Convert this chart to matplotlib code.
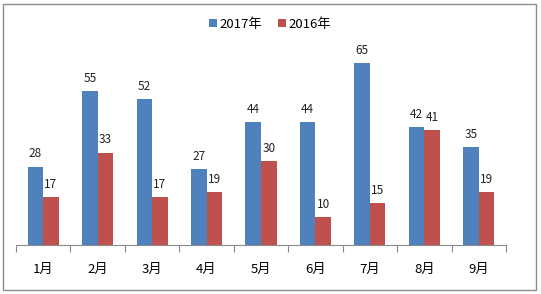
import numpy as np
import matplotlib.pyplot as plt
from matplotlib.patches import Rectangle

plt.rcParams['font.family'] = ['Noto Sans CJK SC', 'DejaVu Sans']

# data
months = ['1月', '2月', '3月', '4月', '5月', '6月', '7月', '8月', '9月']
vals_2017 = [28, 55, 52, 27, 44, 44, 65, 42, 35]
vals_2016 = [17, 33, 17, 19, 30, 10, 15, 41, 19]
series_names = ['2017年', '2016年']

BLUE = '#4F81BD'
RED = '#C0504D'

fig = plt.figure(figsize=(5.41, 2.94), dpi=100)
ax = fig.add_axes([16 / 541, 49 / 294, 490 / 541, 196 / 294])

x = np.arange(len(months))
w = 0.285
b1 = ax.bar(x - w / 2, vals_2017, w, color=BLUE, label=series_names[0])
b2 = ax.bar(x + w / 2, vals_2016, w, color=RED, label=series_names[1])

for bars in (b1, b2):
    for r in bars:
        ax.text(r.get_x() + r.get_width() / 2, r.get_height() + 2.2, f'{r.get_height():.0f}',
                ha='center', va='bottom', fontsize=8.5, color='#222222')

ax.set_xlim(-0.5, len(months) - 0.5)
ax.set_ylim(0, 70)
ax.set_yticks([])
for s in ['top', 'left', 'right']:
    ax.spines[s].set_visible(False)
ax.spines['bottom'].set_color('#8c8c8c')

# ticks between categories, labels at centers
ax.set_xticks(np.arange(-0.5, len(months)), minor=False)
ax.set_xticklabels([])
ax.tick_params(axis='x', direction='out', length=5, color='#8c8c8c')
ax.set_xticks(x, minor=True)
ax.set_xticklabels(months, minor=True, fontsize=9.5)
ax.tick_params(axis='x', which='minor', length=0, pad=13)

fig.legend(handles=[b1, b2], loc='upper center', bbox_to_anchor=(0.5, 0.98), ncol=2,
           frameon=False, fontsize=9.5, handlelength=0.6, handleheight=0.6,
           handletextpad=0.2, columnspacing=1.2)

# outer frame
fig.add_artist(Rectangle((3 / 541, 4 / 294), 533 / 541, 286 / 294, transform=fig.transFigure,
                         fill=False, edgecolor='#8c8c8c', linewidth=1))

fig.savefig('out.png', dpi=100)
